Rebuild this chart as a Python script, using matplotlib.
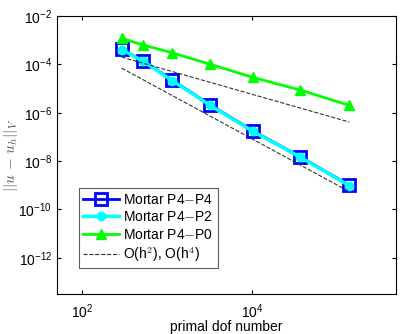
import matplotlib
matplotlib.use('Agg')
import matplotlib.pyplot as plt

# primal dof counts
dofs = [290, 520, 1150, 3230, 10200, 37000, 141000]

# errors ||u - u_h||_V
err_p4p4 = [4.2e-4, 1.4e-4, 2.2e-5, 2.1e-6, 1.8e-7, 1.5e-8, 1.0e-9]
err_p4p2 = [4.1e-4, 1.35e-4, 2.1e-5, 2.0e-6, 1.7e-7, 1.45e-8, 0.95e-9]
err_p4p0 = [1.2e-3, 6.3e-4, 3.0e-4, 1.0e-4, 2.9e-5, 8.7e-6, 2.0e-6]

# reference slopes, end points only
ref_x = [290, 141000]
ref_h2 = [2.0e-4, 4.1e-7]
ref_h4 = [7.0e-5, 5.4e-10]

plt.rcParams['font.family'] = ['Liberation Sans', 'DejaVu Sans']
plt.rcParams['mathtext.fontset'] = 'cm'

fig = plt.figure(figsize=(4.03, 3.34), dpi=100)
ax = fig.add_axes([0.1414, 0.1198, 0.8412, 0.8322])

ax.loglog(dofs, err_p4p4, '-s', color='#0000ff', lw=2, ms=9,
          mfc='none', mew=2, label='Mortar P4$-$P4')
ax.loglog(dofs, err_p4p2, '-o', color='#00ffff', lw=2.5, ms=6,
          mfc='#00ffff', mec='#00ffff', label='Mortar P4$-$P2')
ax.loglog(dofs, err_p4p0, '-^', color='#00ff00', lw=2, ms=7,
          mfc='#00ff00', label='Mortar P4$-$P0')
ax.loglog(ref_x, ref_h2, '--', color='#333333', lw=0.8,
          label='O(h$^2$), O(h$^4$)')
ax.loglog(ref_x, ref_h4, '--', color='#333333', lw=0.8)

ax.set_xlim(50, 5e5)
ax.set_ylim(10**-13.5, 1e-2)
ax.set_xticks([1e2, 1e4])
ax.set_yticks([1e-12, 1e-10, 1e-8, 1e-6, 1e-4, 1e-2])
ax.minorticks_off()
ax.tick_params(direction='in', top=True, right=True, labelsize=10, length=3)
ax.tick_params(axis='x', pad=6)
for s in ax.spines.values():
    s.set_linewidth(0.8)

ax.set_xlabel('primal dof number', fontsize=10, labelpad=-1)
ax.set_ylabel(r'$||u\,-\,u_h||_V$', fontsize=11, color='#555555')
ax.yaxis.set_label_coords(-0.108, 0.5)

leg = ax.legend(loc='lower left', bbox_to_anchor=(0.065, 0.094),
                borderaxespad=0, fontsize=10, frameon=True, fancybox=False,
                edgecolor='#333333', handlelength=2.6, handletextpad=0.3,
                labelspacing=0.25, borderpad=0.3)
leg.get_frame().set_linewidth(0.8)

fig.savefig('out.png', dpi=100)
